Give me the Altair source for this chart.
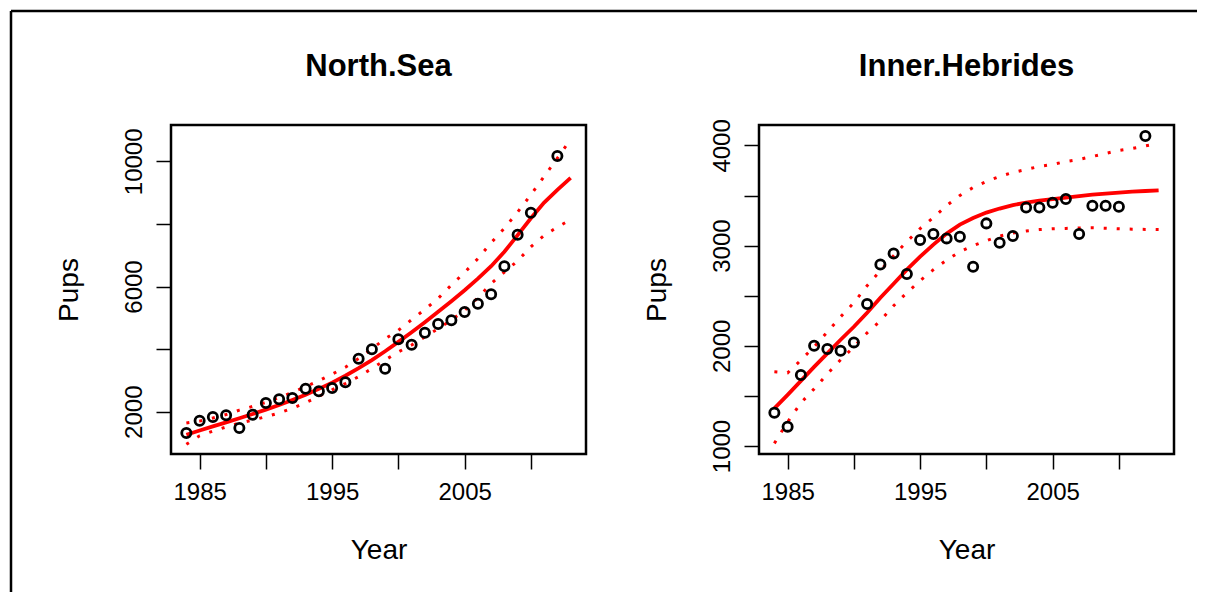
import altair as alt
import pandas as pd

# observed pup counts
obs_years = [1984, 1985, 1986, 1987, 1988, 1989, 1990, 1991, 1992, 1993, 1994, 1995, 1996, 1997,
             1998, 1999, 2000, 2001, 2002, 2003, 2004, 2005, 2006, 2007, 2008, 2009, 2010, 2012]
ns_pups = [1320, 1712, 1830, 1885, 1480, 1904, 2278, 2396, 2437, 2735, 2652, 2757, 2939, 3694,
           3994, 3374, 4313, 4141, 4524, 4802, 4920, 5185, 5451, 5751, 6646, 7655, 8358, 10170]
ih_pups = [1332, 1193, 1709, 2001, 1968, 1951, 2034, 2417, 2812, 2922, 2717, 3056, 3116, 3072,
           3089, 2789, 3222, 3029, 3096, 3381, 3381, 3428, 3465, 3116, 3398, 3398, 3388, 4094]

# fitted trend and interval
fit_years = [1984, 1985, 1986, 1987, 1988, 1989, 1990, 1991, 1992, 1993, 1994, 1995, 1996, 1997, 1998,
             1999, 2000, 2001, 2002, 2003, 2004, 2005, 2006, 2007, 2008, 2009, 2010, 2011, 2012, 2013]
ns_fit = [1265, 1400, 1530, 1660, 1790, 1925, 2065, 2215, 2375, 2545, 2730, 2930, 3150, 3390, 3650,
          3930, 4230, 4540, 4860, 5190, 5530, 5880, 6250, 6650, 7110, 7640, 8180, 8680, 9090, 9470]
ns_up = [1640, 1700, 1800, 1910, 2050, 2170, 2300, 2450, 2620, 2800, 2990, 3200, 3420, 3700, 4010,
         4330, 4600, 4940, 5270, 5620, 6050, 6450, 6890, 7400, 7860, 8380, 8930, 9520, 10100, 10700]
ns_lo = [958, 1230, 1380, 1510, 1640, 1730, 1840, 1960, 2110, 2290, 2490, 2700, 2900, 3120, 3380,
         3650, 3910, 4130, 4390, 4650, 4930, 5240, 5640, 6090, 6460, 6820, 7270, 7630, 7900, 8134]
ih_fit = [1375, 1510, 1650, 1790, 1925, 2060, 2190, 2330, 2480, 2620, 2760, 2890, 3010, 3120, 3210,
          3275, 3330, 3370, 3405, 3430, 3450, 3465, 3480, 3495, 3508, 3520, 3530, 3538, 3545, 3552]
ih_up = [1740, 1730, 1857, 1990, 2140, 2290, 2430, 2600, 2750, 2900, 3040, 3170, 3280, 3400, 3500,
         3580, 3640, 3690, 3730, 3760, 3790, 3810, 3840, 3860, 3890, 3920, 3950, 3970, 3995, 4020]
ih_lo = [1026, 1240, 1430, 1570, 1720, 1860, 1990, 2130, 2250, 2400, 2530, 2650, 2760, 2855, 2940,
         3000, 3050, 3095, 3125, 3145, 3160, 3168, 3172, 3176, 3178, 3174, 3168, 3164, 3162, 3160]

x_ticks = [1985, 1990, 1995, 2000, 2005, 2010]
x_labeled = [1985, 1995, 2005]
ns_ticks = [2000, 4000, 6000, 8000, 10000]
ns_labeled = [2000, 6000, 10000]
ih_ticks = [1000, 1500, 2000, 2500, 3000, 3500, 4000]
ih_labeled = [1000, 2000, 3000, 4000]

FONT = "Liberation Sans"
W, H = 415, 329
XDOM = [1982.84, 2014.16]


def label_expr(vals):
    cond = "||".join("datum.value==%d" % v for v in vals)
    return "(%s)?datum.label:''" % cond


def panel(title, obs_vals, fit, lo, up, ydom, yticks, ylab, border=False):
    obs = pd.DataFrame({"Year": obs_years, "Pups": obs_vals})
    fdf = pd.DataFrame({"Year": fit_years, "fit": fit, "lo": lo, "up": up})
    x = alt.X("Year:Q",
              scale=alt.Scale(domain=XDOM, nice=False, zero=False),
              axis=alt.Axis(values=x_ticks, format="d", labelExpr=label_expr(x_labeled),
                            labelPadding=11, labelFlush=False, labelOverlap=False,
                            title="Year", titleX=W / 2, titleY=104, titleAlign="center",
                            titleBaseline="alphabetic"))
    yscale = alt.Scale(domain=ydom, nice=False, zero=False)
    yaxis = alt.Axis(values=yticks, format="d", labelExpr=label_expr(ylab),
                     labelAngle=270, labelAlign="center", labelBaseline="bottom",
                     labelPadding=10, labelFlush=False, labelOverlap=False,
                     title="Pups", titleAngle=270, titleX=-94, titleY=H / 2,
                     titleAlign="center", titleBaseline="alphabetic")
    base_f = alt.Chart(fdf)
    pts = alt.Chart(obs).mark_point(shape="circle", filled=False, size=85, strokeWidth=2.8,
                                    color="black", opacity=1).encode(
        x=x, y=alt.Y("Pups:Q", scale=yscale, axis=yaxis))
    fitl = base_f.mark_line(color="#ff0000", strokeWidth=3.8).encode(
        x="Year:Q", y=alt.Y("fit:Q", scale=yscale))
    upl = base_f.mark_line(color="#ff0000", strokeWidth=3, strokeDash=[3, 10]).encode(
        x="Year:Q", y=alt.Y("up:Q", scale=yscale))
    lol = base_f.mark_line(color="#ff0000", strokeWidth=3, strokeDash=[3, 10]).encode(
        x="Year:Q", y=alt.Y("lo:Q", scale=yscale))
    ttl = alt.Chart(pd.DataFrame({"t": [title]})).mark_text(
        font=FONT, fontSize=31, fontWeight="bold", align="center", baseline="alphabetic",
        color="black").encode(text="t:N", x=alt.value(W / 2), y=alt.value(-49))
    layers = [fitl, upl, lol, pts, ttl]
    if border:
        one = pd.DataFrame({"a": [0]})
        top = alt.Chart(one).mark_rule(color="black", strokeWidth=2.5).encode(
            x=alt.value(-160), x2=alt.value(1026), y=alt.value(-114))
        left = alt.Chart(one).mark_rule(color="black", strokeWidth=2.5).encode(
            x=alt.value(-160), y=alt.value(-114), y2=alt.value(467))
        layers += [top, left]
    return alt.layer(*layers).properties(width=W, height=H)


left = panel("North.Sea", ns_pups, ns_fit, ns_lo, ns_up, [649, 11160], ns_ticks, ns_labeled, border=True)
right = panel("Inner.Hebrides", ih_pups, ih_fit, ih_lo, ih_up, [920, 4204], ih_ticks, ih_labeled)

chart = alt.hconcat(left, right, spacing=173, bounds="flush").properties(
    padding=0, background="white"
).configure_view(stroke="black", strokeWidth=2.5).configure_axis(
    domain=False, grid=False, tickColor="black", tickSize=15, tickWidth=1.5,
    labelFont=FONT, labelFontSize=24, labelColor="black",
    titleFont=FONT, titleFontSize=28, titleFontWeight="normal", titleColor="black"
)

chart.save("out.html", embed_options={"renderer": "svg", "actions": False})
